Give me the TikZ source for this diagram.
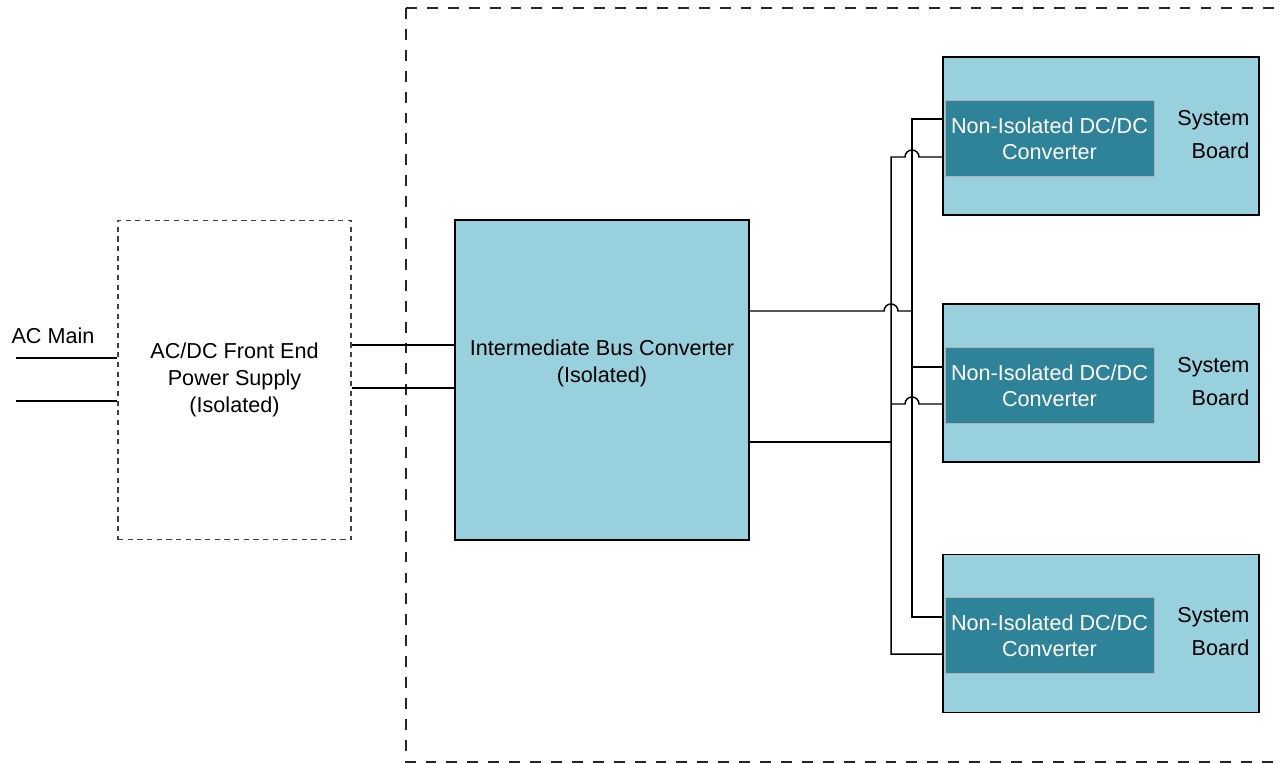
\documentclass[tikz,border=0pt]{standalone}
\usepackage{fontspec}
\setmainfont{Liberation Sans}
\definecolor{boardblue}{RGB}{153,208,222}
\definecolor{convteal}{RGB}{47,131,153}
\begin{document}
\begin{tikzpicture}[x=0.02cm, y=-0.02cm, line width=0.85pt,
  font=\fontsize{12.3}{15.4}\selectfont,
  psubox/.style={draw=black!75, dash pattern=on 3pt off 2.5pt, line width=0.6pt, minimum width=4.66cm, minimum height=6.4cm, inner sep=0pt},
  ibcbox/.style={draw, fill=boardblue, minimum width=5.88cm, minimum height=6.4cm, inner sep=0pt},
  boardbox/.style={draw, fill=boardblue, minimum width=6.32cm, minimum height=3.17cm, inner sep=0pt},
  convbox/.style={draw=black!30, line width=0.4pt, fill=convteal, text=white, align=center, minimum width=4.18cm, minimum height=1.52cm, inner sep=0pt, font=\fontsize{12.3}{14.8}\selectfont},
  sblabel/.style={align=right, anchor=east, font=\fontsize{12.3}{18.8}\selectfont}]
\useasboundingbox (0,0) rectangle (1279,764);
\draw[dash pattern=on 6.2pt off 5.7pt, line width=1.1pt, black!85] (406,8) -- (1290,8);
\draw[dash pattern=on 6.2pt off 5.7pt, line width=1.1pt, black!85] (406,8) -- (406,762) -- (1290,762);
\node[psubox, align=center] (fe) at (234.5,380){AC/DC Front End\\Power Supply\\(Isolated)};
\node (acmain) at (53,336){AC Main};
\node[ibcbox] (ibc) at (602,380){};
\node[align=center] (ibctext) at (602,363){Intermediate Bus Converter\\(Isolated)};
\node[boardbox] (boardA) at (1101,136){};
\node[boardbox] (boardB) at (1101,383){};
\node[boardbox] (boardC) at (1101,633.5){};
\node[convbox] (convA) at (1049.5,138.5){Non-Isolated DC/DC\\Converter};
\node[convbox] (convB) at (1049.5,385.5){Non-Isolated DC/DC\\Converter};
\node[convbox] (convC) at (1049.5,635.5){Non-Isolated DC/DC\\Converter};
\node[sblabel] (sbA) at (1256,135){System\\Board};
\node[sblabel] (sbB) at (1256,382){System\\Board};
\node[sblabel] (sbC) at (1256,632){System\\Board};
\coordinate (acin1) at (16,358);
\coordinate (acin2) at (16,401);
\coordinate (rtop) at (912,119);
\coordinate (rbot) at (912,617);
\coordinate (ltop) at (891,157);
\coordinate (lbot) at (891,654);
\draw[](acin1) -- (acin1 -| fe.west);
\draw[](acin2) -- (acin2 -| fe.west);
\draw[](fe.east |- 0,345) -- (ibc.west |- 0,345);
\draw[](fe.east |- 0,388) -- (ibc.west |- 0,388);
\draw[](ibc.east |- 0,311) -- (884,311) arc[start angle=180, end angle=360, radius=7] -- (912,311);
\draw[](ibc.east |- 0,442) -- (891,442);
\draw[](boardA.west |- rtop) -- (rtop) -- (rbot) -- (boardC.west |- rbot);
\draw[](boardC.west |- lbot) -- (lbot) -- (ltop) -- (905,157) arc[start angle=180, end angle=360, radius=7] -- (boardA.west |- ltop);
\draw[](912,367) -- (boardB.west |- 0,367);
\draw[](891,404) -- (905,404) arc[start angle=180, end angle=360, radius=7] -- (boardB.west |- 0,404);
\end{tikzpicture}
\end{document}
